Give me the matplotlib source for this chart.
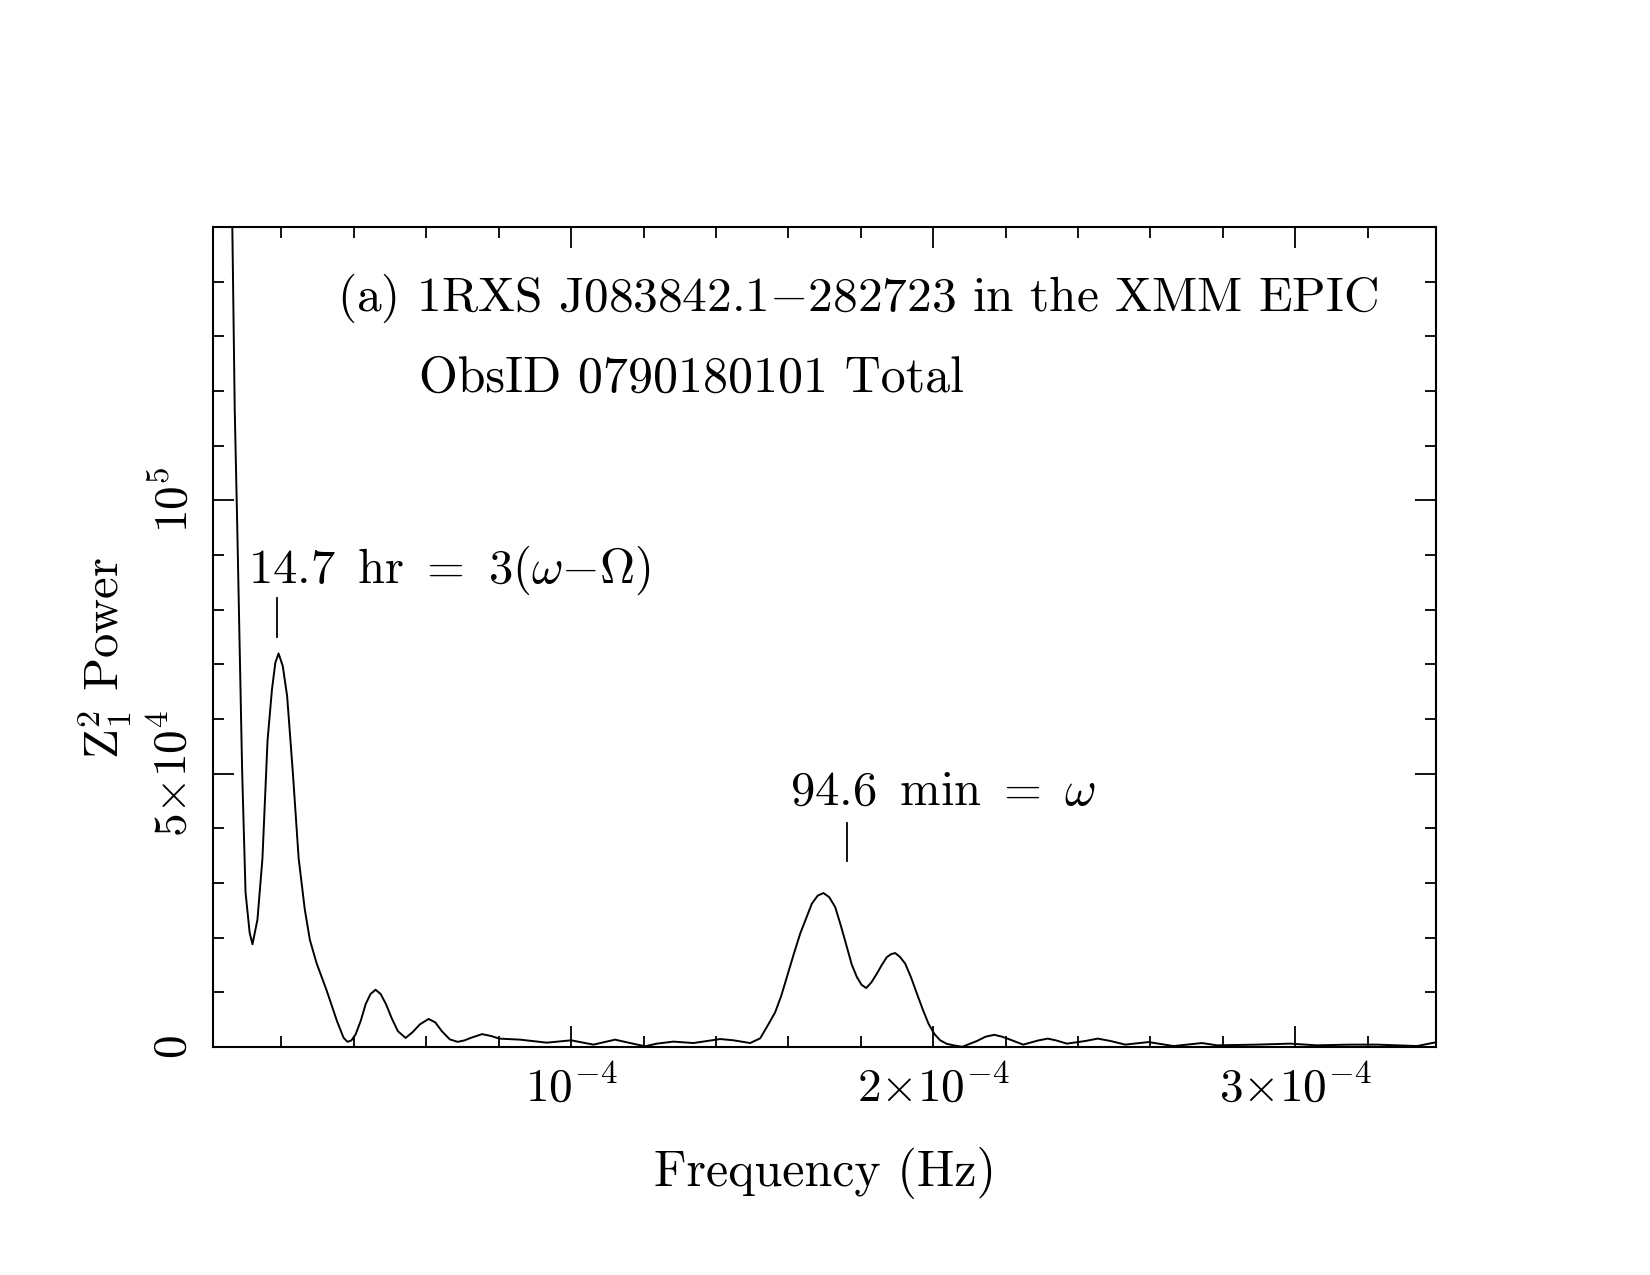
import numpy as np
import matplotlib
matplotlib.use("Agg")
import matplotlib.pyplot as plt
from matplotlib.ticker import MultipleLocator

plt.rcParams['font.family'] = ['cmr10', 'DejaVu Serif']
plt.rcParams['mathtext.fontset'] = 'cm'
plt.rcParams['axes.formatter.use_mathtext'] = True

# Z_1^2 periodogram (frequency in Hz, power in units of 1e4)
freq = [5.97e-6, 7.10e-6, 7.76e-6, 9.14e-6, 1.008e-5, 1.122e-5, 1.20e-5, 1.337e-5,
        1.475e-5, 1.616e-5, 1.738e-5, 1.831e-5, 1.92e-5, 2.036e-5, 2.157e-5, 2.318e-5,
        2.475e-5, 2.644e-5, 2.785e-5, 2.972e-5, 3.251e-5, 3.533e-5, 3.718e-5, 3.826e-5,
        3.93e-5, 4.047e-5, 4.19e-5, 4.326e-5, 4.46e-5, 4.60e-5, 4.74e-5, 4.887e-5,
        5.05e-5, 5.215e-5, 5.428e-5, 5.62e-5, 5.82e-5, 6.064e-5, 6.25e-5, 6.428e-5,
        6.65e-5, 6.865e-5, 7.05e-5, 7.224e-5, 7.541e-5, 7.8e-5, 8.011e-5, 8.591e-5,
        9.329e-5, 1.0e-4, 1.0616e-4, 1.1215e-4, 1.163e-4, 1.2044e-4, 1.2367e-4,
        1.2826e-4, 1.3378e-4, 1.4116e-4, 1.4483e-4, 1.4945e-4, 1.5221e-4, 1.5406e-4,
        1.5635e-4, 1.58e-4, 1.5959e-4, 1.614e-4, 1.6326e-4, 1.6649e-4, 1.681e-4,
        1.697e-4, 1.713e-4, 1.7293e-4, 1.745e-4, 1.7616e-4, 1.775e-4, 1.7892e-4,
        1.802e-4, 1.8149e-4, 1.829e-4, 1.8445e-4, 1.858e-4, 1.8721e-4, 1.884e-4,
        1.895e-4, 1.908e-4, 1.9227e-4, 1.939e-4, 1.955e-4, 1.971e-4, 1.987e-4,
        2.003e-4, 2.0193e-4, 2.037e-4, 2.0561e-4, 2.0801e-4, 2.1207e-4, 2.145e-4,
        2.1685e-4, 2.19e-4, 2.2127e-4, 2.2486e-4, 2.29e-4, 2.3163e-4, 2.34e-4,
        2.3693e-4, 2.42e-4, 2.4544e-4, 2.49e-4, 2.5304e-4, 2.5948e-4, 2.6638e-4,
        2.7423e-4, 2.7837e-4, 2.8942e-4, 2.9862e-4, 3.0599e-4, 3.1519e-4, 3.2257e-4,
        3.3362e-4, 3.3914e-4]
power = [17.32, 11.65, 9.63, 5.06, 2.83, 2.09, 1.88, 2.33,
         3.45, 5.61, 6.54, 7.03, 7.20, 6.97, 6.42, 4.99,
         3.45, 2.52, 1.96, 1.53, 1.03, 0.476, 0.166, 0.095,
         0.12, 0.229, 0.48, 0.785, 0.97, 1.048, 0.97, 0.785,
         0.52, 0.291, 0.166, 0.27, 0.413, 0.514, 0.45, 0.291,
         0.14, 0.095, 0.12, 0.166, 0.236, 0.20, 0.154, 0.135,
         0.080, 0.123, 0.044, 0.135, 0.073, 0.013, 0.062,
         0.099, 0.073, 0.146, 0.123, 0.073, 0.159, 0.366,
         0.635, 0.93, 1.28, 1.68, 2.074, 2.623, 2.77,
         2.817, 2.74, 2.561, 2.22, 1.829, 1.51, 1.28,
         1.14, 1.079, 1.18, 1.343, 1.50, 1.646, 1.70,
         1.719, 1.65, 1.526, 1.27, 0.977, 0.69, 0.428,
         0.24, 0.123, 0.06, 0.031, 0.004, 0.110, 0.19,
         0.223, 0.19, 0.135, 0.044, 0.12, 0.154, 0.12,
         0.062, 0.11, 0.154, 0.11, 0.044, 0.091, 0.018,
         0.073, 0.031, 0.044, 0.062, 0.031, 0.044, 0.044,
         0.018, 0.091]
power = np.array(power) * 1e4

xticks = [1e-4, 2e-4, 3e-4]
xticklabels = [r'$10^{-4}$', r'$2{\times}10^{-4}$', r'$3{\times}10^{-4}$']
yticks = [0, 5e4, 1e5]
yticklabels = [r'$0$', r'$5{\times}10^{4}$', r'$10^{5}$']

# peak markers: frequency, text, text position (freq, power), marker from/to power
ann_freq = [1.89e-5, 1.762e-4]
ann_text = [r'14.7 $\,$hr $\,$= $\,$3($\omega$$-$$\Omega$)', r'94.6 $\,$min $\,$= $\,$$\omega$']
ann_xy = [(1.077e-5, 8.72e4), (1.605e-4, 4.66e4)]
ann_lo = [7.51e4, 3.40e4]
ann_hi = [8.21e4, 4.09e4]

fig = plt.figure(figsize=(16.5, 12.75), dpi=100)
ax = fig.add_axes([0.1291, 0.1788, 0.7415, 0.6431])

ax.plot(freq, power, color='k', lw=1.4)
ax.set_xlim(1.1e-6, 3.39e-4)
ax.set_ylim(0, 1.5e5)

for s in ax.spines.values():
    s.set_linewidth(1.5)

ax.xaxis.set_minor_locator(MultipleLocator(2e-5))
ax.yaxis.set_minor_locator(MultipleLocator(1e4))
ax.set_xticks(xticks)
ax.set_xticklabels(xticklabels, fontsize=34)
ax.set_yticks(yticks)
ax.set_yticklabels(yticklabels, fontsize=34, rotation=90, va='center')
ax.tick_params(which='both', direction='in', top=True, right=True, width=1.3)
ax.tick_params(which='major', length=15)
ax.tick_params(which='minor', length=8)
ax.tick_params(axis='x', which='major', pad=12)
ax.tick_params(axis='y', which='major', pad=13)

ax.set_xlabel('Frequency (Hz)', fontsize=36, va='center')
ax.xaxis.set_label_coords(0.5, -0.1537)
ax.set_ylabel(r'$\mathrm{Z}_1^2$ Power', fontsize=35, va='center')
ax.yaxis.set_label_coords(-0.088, 0.474)

ax.text(0.1013, 0.9134, r'(a) 1RXS J083842.1$-$282723 in the XMM EPIC',
        transform=ax.transAxes, fontsize=35.5, ha='left', va='center')
ax.text(0.1684, 0.8146, 'ObsID 0790180101 Total',
        transform=ax.transAxes, fontsize=36, ha='left', va='center')

for f, t, (tx, ty), lo, hi in zip(ann_freq, ann_text, ann_xy, ann_lo, ann_hi):
    ax.plot([f, f], [lo, hi], color='k', lw=1.3)
    ax.text(tx, ty, t, fontsize=35, ha='left', va='center')

fig.savefig('out.png', dpi=100)
